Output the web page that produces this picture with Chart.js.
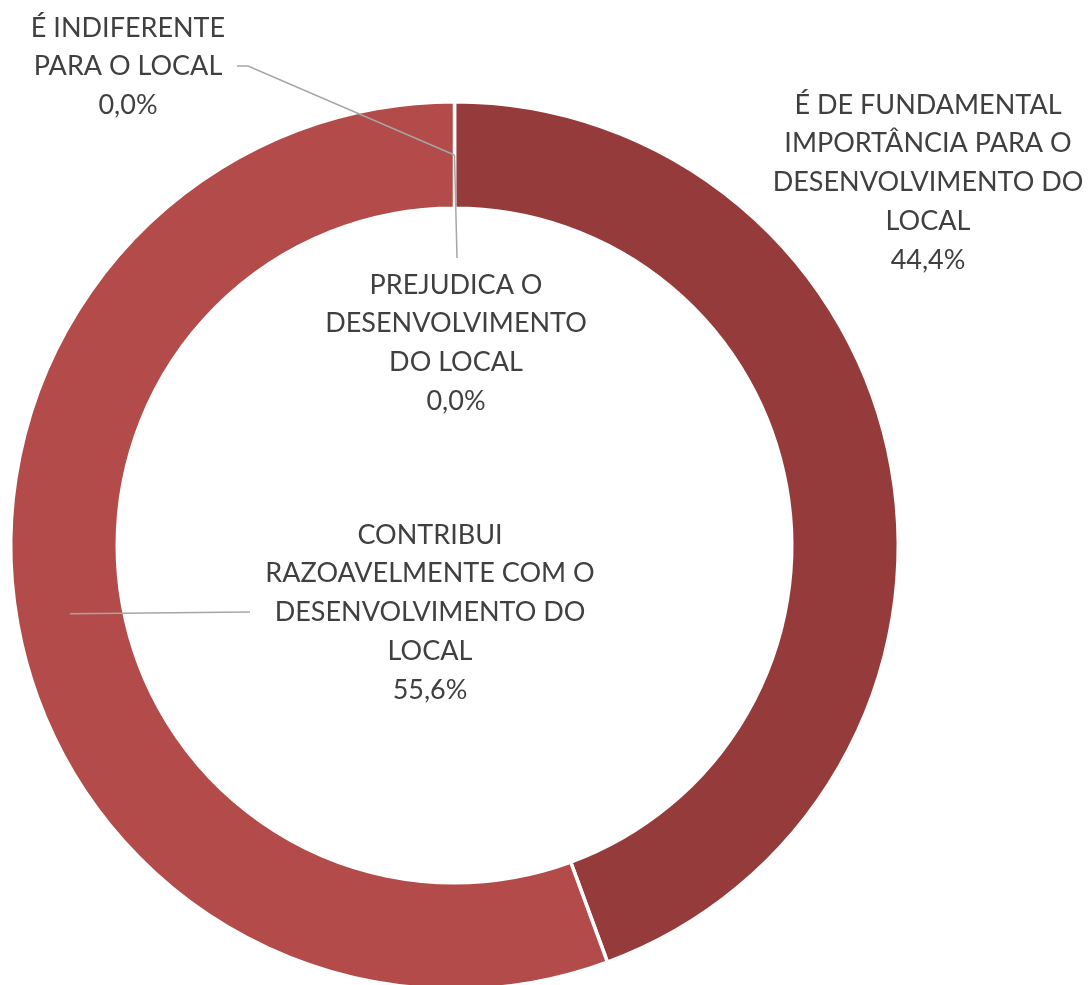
<!DOCTYPE html>
<html>
<head>
<meta charset="utf-8">
<script src="https://cdn.jsdelivr.net/npm/chart.js@4/dist/chart.umd.min.js"></script>
<style>
html, body { margin: 0; padding: 0; overflow: hidden; background: #fff; }
#wrap { width: 1089px; height: 1000px; }
</style>
</head>
<body>
<div id="wrap"><canvas id="donut" width="1089" height="1000"></canvas></div>
<script>
const categories = [
    'É DE FUNDAMENTAL IMPORTÂNCIA PARA O DESENVOLVIMENTO DO LOCAL',
    'CONTRIBUI RAZOAVELMENTE COM O DESENVOLVIMENTO DO LOCAL',
    'PREJUDICA O DESENVOLVIMENTO DO LOCAL',
    'É INDIFERENTE PARA O LOCAL'
];
const percentages = [44.4, 55.6, 0.0, 0.0];
const sliceColors = ['#953B3B', '#B24B49', '#B24B49', '#B24B49'];

// label text split in lines, as in the original chart
const labelLines = [
    ['É DE FUNDAMENTAL', 'IMPORTÂNCIA PARA O', 'DESENVOLVIMENTO DO', 'LOCAL'],
    ['CONTRIBUI', 'RAZOAVELMENTE COM O', 'DESENVOLVIMENTO DO', 'LOCAL'],
    ['PREJUDICA O', 'DESENVOLVIMENTO', 'DO LOCAL'],
    ['É INDIFERENTE', 'PARA O LOCAL']
];

const fmt = v => v.toFixed(1).replace('.', ',') + '%';

// where each label block sits and where its leader line ends
const labelPlace = [
    { x: 928, y: 105, leader: null },
    { x: 430, y: 535, leader: [[250, 612]] },
    { x: 456, y: 285, leader: [[457, 258]] },
    { x: 128, y: 28, leader: [[248, 66], [237, 66]] }
];

const labelPlugin = {
    id: 'outLabels',
    afterDatasetsDraw(chart) {
        const ctx = chart.ctx;
        const arcs = chart.getDatasetMeta(0).data;
        ctx.save();
        ctx.strokeStyle = '#A6A6A6';
        ctx.lineWidth = 1.5;
        arcs.forEach((arc, i) => {
            const p = labelPlace[i];
            if (!p.leader) return;
            const a = arc.tooltipPosition();
            ctx.beginPath();
            ctx.moveTo(a.x, a.y);
            p.leader.forEach(pt => ctx.lineTo(pt[0], pt[1]));
            ctx.stroke();
        });
        ctx.fillStyle = '#404040';
        ctx.font = '27px Lato';
        ctx.textAlign = 'center';
        ctx.textBaseline = 'middle';
        labelLines.forEach((lines, i) => {
            const p = labelPlace[i];
            const all = lines.concat([fmt(percentages[i])]);
            all.forEach((t, k) => ctx.fillText(t, p.x, p.y + k * 38.7));
        });
        ctx.restore();
    }
};

new Chart(document.getElementById('donut').getContext('2d'), {
    type: 'doughnut',
    data: {
        labels: categories,
        datasets: [{
            data: percentages,
            backgroundColor: sliceColors,
            borderColor: '#ffffff',
            borderWidth: 3.5
        }]
    },
    options: {
        responsive: false,
        animation: false,
        cutout: '76%',
        layout: { padding: { left: 9, right: 189, top: 100, bottom: 9 } },
        plugins: {
            legend: { display: false },
            tooltip: { enabled: false }
        }
    },
    plugins: [labelPlugin]
});
</script>
</body>
</html>
